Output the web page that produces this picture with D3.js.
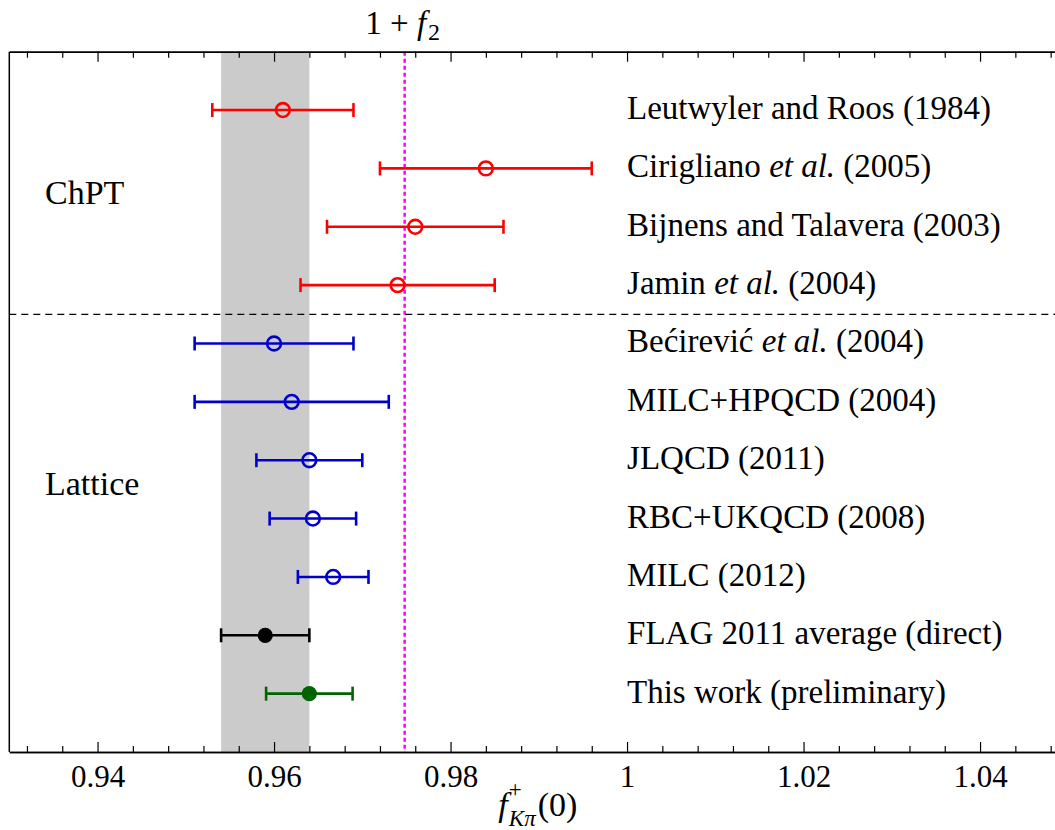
<!DOCTYPE html>
<html>
<head>
<meta charset="utf-8">
<script src="https://cdn.jsdelivr.net/npm/d3@7"></script>
<style>
  body { margin: 0; background: #fff; }
  svg text { font-family: "Liberation Serif", "DejaVu Serif", serif; fill: #000; }
</style>
</head>
<body>
<div id="viz-container"></div>
<script>
// data
let studies = ["Leutwyler and Roos (1984)", "Cirigliano et al. (2005)", "Bijnens and Talavera (2003)",
  "Jamin et al. (2004)", "Bećirević et al. (2004)", "MILC+HPQCD (2004)", "JLQCD (2011)",
  "RBC+UKQCD (2008)", "MILC (2012)", "FLAG 2011 average (direct)", "This work (preliminary)"];
let centers = [0.961, 0.984, 0.976, 0.974, 0.960, 0.962, 0.964, 0.9644, 0.9667, 0.959, 0.964];
let errors  = [0.008, 0.012, 0.010, 0.011, 0.009, 0.011, 0.006, 0.0049, 0.004, 0.005, 0.0049];
let groups  = ["ChPT", "ChPT", "ChPT", "ChPT", "Lattice", "Lattice", "Lattice", "Lattice", "Lattice", "FLAG", "this"];
let band = [0.954, 0.964];
let onePlusF2 = 0.9748;
let majorTicks = [0.94, 0.96, 0.98, 1.00, 1.02, 1.04];
let tickLabels = ["0.94", "0.96", "0.98", "1", "1.02", "1.04"];
let sections = [{name: "ChPT", pos: 9.5}, {name: "Lattice", pos: 4.5}];

let w = 1055, h = 830;
let padL = 9.3, padR = 1068.3, padT = 51.7, padB = 752;

function colorOf(g){
  if (g == "ChPT") return "#ff0000";
  if (g == "Lattice") return "#0000cc";
  if (g == "FLAG") return "#000000";
  return "#006400";
}
function filled(g){ return g == "FLAG" || g == "this"; }

let viz = d3.select("#viz-container").append("svg")
  .attr("width", w).attr("height", h);

let xScale = d3.scaleLinear().domain([0.93, 1.05]).range([padL, padR]);
let yScale = d3.scaleLinear().domain([0, 12]).range([padB, padT]);

let rows = studies.map(function(s, i){
  return {label: s, x: centers[i], err: errors[i], group: groups[i], pos: 11 - i};
});

// grey band
viz.append("rect")
  .attr("x", xScale(band[0])).attr("y", padT)
  .attr("width", xScale(band[1]) - xScale(band[0]))
  .attr("height", padB - padT)
  .attr("fill", "#cbcbcb");

// 1+f2 line
viz.append("line")
  .attr("x1", xScale(onePlusF2)).attr("x2", xScale(onePlusF2))
  .attr("y1", padT).attr("y2", padB)
  .attr("stroke", "#ff00ff").attr("stroke-width", 2.5)
  .attr("stroke-dasharray", "4,3");

// separator between ChPT and lattice
viz.append("line")
  .attr("x1", padL).attr("x2", padR)
  .attr("y1", yScale(7.5)).attr("y2", yScale(7.5))
  .attr("stroke", "#000").attr("stroke-width", 1.3)
  .attr("stroke-dasharray", "7,5");

let datagroup = viz.selectAll(".datagroup").data(rows).enter()
  .append("g").attr("class", "datagroup");

datagroup.append("line")
  .attr("x1", d => xScale(d.x - d.err)).attr("x2", d => xScale(d.x + d.err))
  .attr("y1", d => yScale(d.pos)).attr("y2", d => yScale(d.pos))
  .attr("stroke", d => colorOf(d.group)).attr("stroke-width", 2.6);

datagroup.selectAll(".cap").data(d => [d.x - d.err, d.x + d.err].map(v => ({v: v, d: d})))
  .enter().append("line")
  .attr("class", "cap")
  .attr("x1", c => xScale(c.v)).attr("x2", c => xScale(c.v))
  .attr("y1", c => yScale(c.d.pos) - 7).attr("y2", c => yScale(c.d.pos) + 7)
  .attr("stroke", c => colorOf(c.d.group)).attr("stroke-width", 2.6);

datagroup.append("circle")
  .attr("cx", d => xScale(d.x)).attr("cy", d => yScale(d.pos))
  .attr("r", d => filled(d.group) ? 7.6 : 6.9)
  .attr("fill", d => filled(d.group) ? colorOf(d.group) : "none")
  .attr("stroke", d => colorOf(d.group))
  .attr("stroke-width", d => filled(d.group) ? 0 : 2.6);

// study labels, "et al." in italics
let labels = datagroup.append("text")
  .attr("x", xScale(1.0))
  .attr("y", d => yScale(d.pos) + 9)
  .attr("font-size", "33px");
labels.each(function(d){
  let parts = d.label.split(/(et al\.)/);
  let t = d3.select(this);
  parts.forEach(function(p){
    if (p == "") return;
    t.append("tspan").attr("font-style", p == "et al." ? "italic" : "normal").text(p);
  });
});

viz.selectAll(".section").data(sections).enter()
  .append("text")
  .attr("class", "section")
  .attr("x", 45)
  .attr("y", d => yScale(d.pos) + 6)
  .attr("font-size", "34px")
  .text(d => d.name);

// axes with inward ticks
let minor = d3.range(0.932, 1.05, 0.004).filter(v => majorTicks.every(m => Math.abs(m - v) > 1e-6));

let xAxis = d3.axisBottom(xScale).tickValues(majorTicks)
  .tickFormat((d, i) => tickLabels[i]).tickSizeInner(-10).tickSizeOuter(0).tickPadding(13);
let xAxisGroup = viz.append("g").attr("class", "xaxisgroup")
  .attr("transform", "translate(0," + padB + ")").call(xAxis);
xAxisGroup.attr("font-family", null);
xAxisGroup.selectAll("text").attr("font-size", "31px");

let xMinor = d3.axisBottom(xScale).tickValues(minor).tickFormat("").tickSizeInner(-6).tickSizeOuter(0);
viz.append("g").attr("transform", "translate(0," + padB + ")").call(xMinor);

let topAxis = d3.axisTop(xScale).tickValues(majorTicks).tickFormat("").tickSizeInner(-10).tickSizeOuter(0);
viz.append("g").attr("transform", "translate(0," + padT + ")").call(topAxis);
let topMinor = d3.axisTop(xScale).tickValues(minor).tickFormat("").tickSizeInner(-6).tickSizeOuter(0);
viz.append("g").attr("transform", "translate(0," + padT + ")").call(topMinor);

viz.selectAll(".domain").attr("stroke", "#000").attr("stroke-width", 1.5);
viz.selectAll(".tick line").attr("stroke", "#000").attr("stroke-width", 1.2);

viz.append("line")
  .attr("x1", padL).attr("x2", padL).attr("y1", padT).attr("y2", padB)
  .attr("stroke", "#000").attr("stroke-width", 1.5);
viz.append("line")
  .attr("x1", padR).attr("x2", padR).attr("y1", padT).attr("y2", padB)
  .attr("stroke", "#000").attr("stroke-width", 1.5);

// 1 + f2 annotation
let ann = viz.append("text")
  .attr("x", xScale(onePlusF2) - 2).attr("y", 34)
  .attr("text-anchor", "middle").attr("font-size", "33px");
ann.append("tspan").text("1 + ");
ann.append("tspan").attr("font-style", "italic").text("f");
ann.append("tspan").attr("font-size", "24px").attr("dx", 2).attr("dy", 6).text("2");

// x label: f, stacked super/subscripts, (0)
let cx = (padL + padR) / 2;
viz.append("text").attr("x", cx - 31).attr("y", 816).attr("text-anchor", "end")
  .attr("font-size", "34px").attr("font-style", "italic").text("f");
viz.append("text").attr("x", cx - 30).attr("y", 797)
  .attr("font-size", "23px").text("+");
viz.append("text").attr("x", cx - 30).attr("y", 826)
  .attr("font-size", "23px").attr("font-style", "italic").text("Kπ");
viz.append("text").attr("x", cx - 1).attr("y", 816)
  .attr("font-size", "34px").text("(0)");
</script>
</body>
</html>
